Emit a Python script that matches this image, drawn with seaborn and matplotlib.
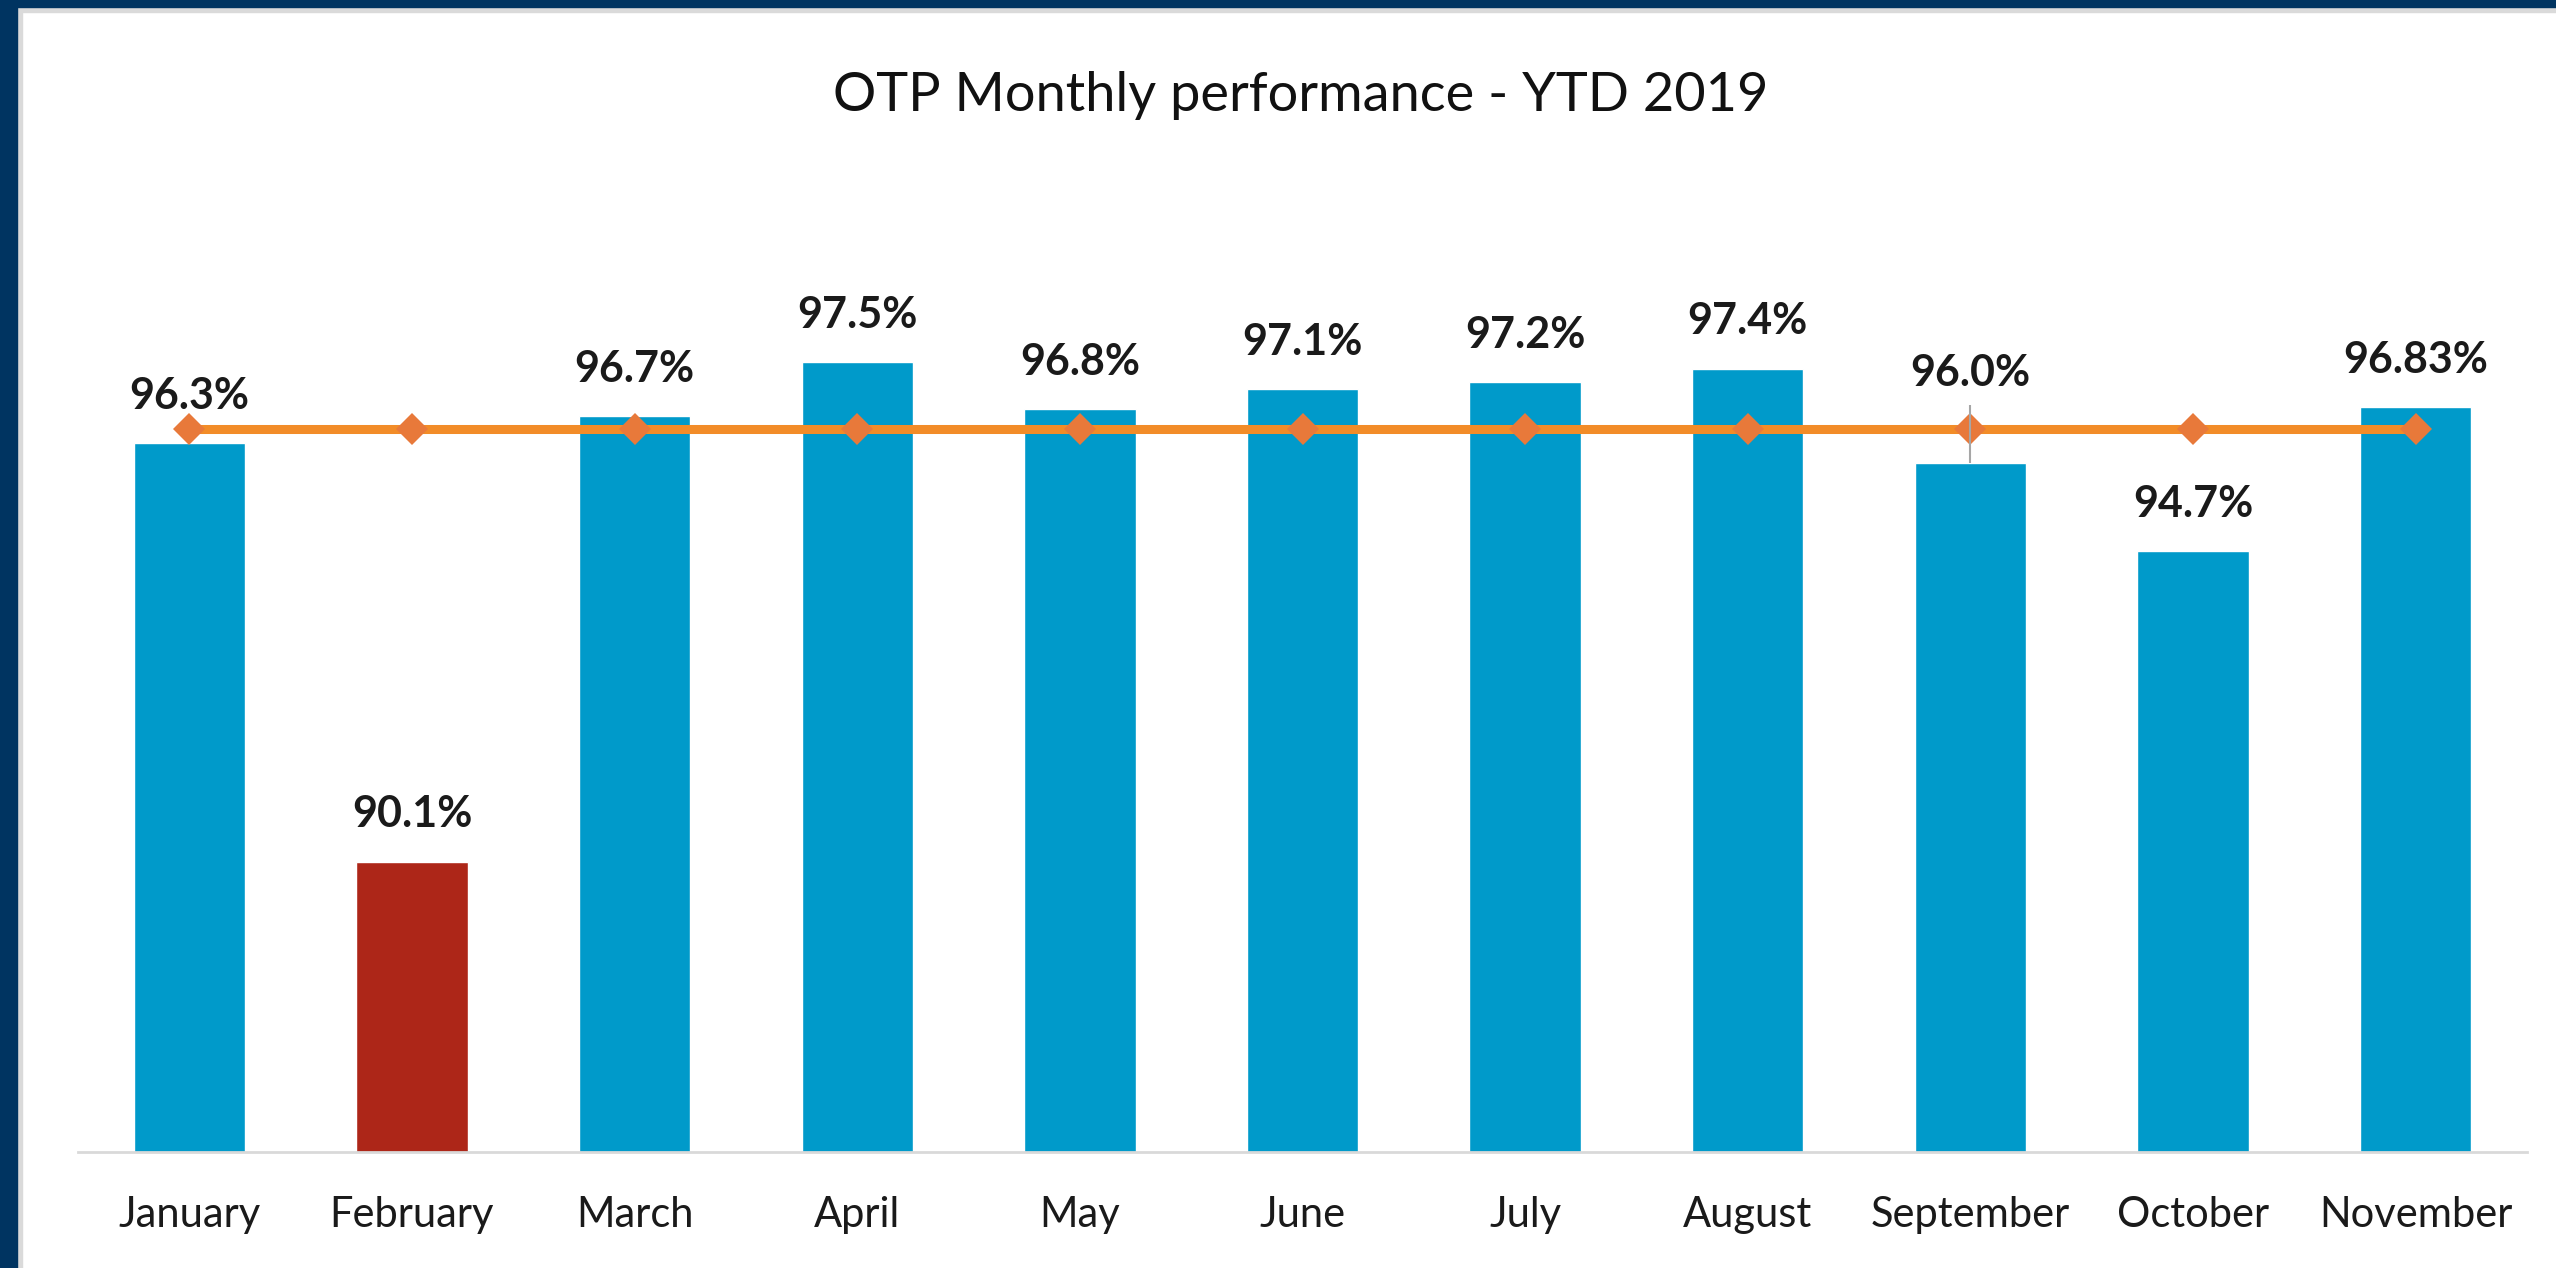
import matplotlib
matplotlib.use("Agg")
import matplotlib.pyplot as plt
from matplotlib.patches import Rectangle
import seaborn as sns
import pandas as pd

months = ["January", "February", "March", "April", "May", "June",
          "July", "August", "September", "October", "November"]
otp = [96.3, 90.1, 96.7, 97.5, 96.8, 97.1, 97.2, 97.4, 96.0, 94.7, 96.83]
otp_labels = ["96.3%", "90.1%", "96.7%", "97.5%", "96.8%", "97.1%",
              "97.2%", "97.4%", "96.0%", "94.7%", "96.83%"]
target = [96.5] * 11

BLUE = "#009ACA"
RED = "#AD2618"
ORANGE = "#F28C28"
ORANGE_MK = "#E8793A"
NAVY = "#003461"

sns.set_theme(style="white")
plt.rcParams["font.family"] = ["Lato", "DejaVu Sans"]

df = pd.DataFrame({"month": months, "otp": otp})
colors = [RED if m == "February" else BLUE for m in months]

W, H = 2556, 1268
fig = plt.figure(figsize=(W / 100, H / 100), dpi=100)
fig.patch.set_facecolor("white")
ax = fig.add_axes([78 / W, 1 - 1152 / H, (2527 - 78) / W, (1152 - 193) / H])

sns.barplot(data=df, x="month", y="otp", hue="month", palette=colors,
            legend=False, width=0.5, saturation=1, ax=ax)
sns.lineplot(x=months, y=target, sort=False, color=ORANGE, lw=6.5,
             marker="D", markersize=16, markerfacecolor=ORANGE_MK,
             markeredgewidth=0, ax=ax, zorder=3)

# leader line for the moved September label
ax.vlines(8, 96.0, 96.86, color="#A6A6A6", lw=1.5, zorder=4)

for i, (v, lab) in enumerate(zip(otp, otp_labels)):
    off = 65 if months[i] == "September" else 34
    ax.annotate(lab, (i, v), xytext=(0, off), textcoords="offset points",
                ha="center", va="center", fontsize=31, fontweight="bold",
                color="#1A1A1A")

ax.set_ylim(85.8, 100)
ax.set_xlim(-0.5, 10.5)
ax.set_xlabel("")
ax.set_ylabel("")
ax.set_yticks([])
ax.tick_params(axis="x", length=0, pad=32, labelsize=30, labelcolor="#1A1A1A")
for s in ["top", "left", "right"]:
    ax.spines[s].set_visible(False)
ax.spines["bottom"].set_color("#D9D9D9")
ax.spines["bottom"].set_linewidth(2)

fig.text(0.509, 1 - 96 / H, "OTP Monthly performance - YTD 2019",
         ha="center", va="center", fontsize=39, color="#111111")

# navy frame on left and top with a soft grey edge
fig.patches.append(Rectangle((17 / W, 0), 5 / W, 1, transform=fig.transFigure,
                             color="#DADADA", zorder=0))
fig.patches.append(Rectangle((0, 1 - 12 / H), 1, 5 / H, transform=fig.transFigure,
                             color="#DADADA", zorder=0))
fig.patches.append(Rectangle((0, 0), 17 / W, 1, transform=fig.transFigure,
                             color=NAVY, zorder=1))
fig.patches.append(Rectangle((0, 1 - 7 / H), 1, 7 / H, transform=fig.transFigure,
                             color=NAVY, zorder=1))

fig.savefig("out.png", dpi=100, facecolor="white")
